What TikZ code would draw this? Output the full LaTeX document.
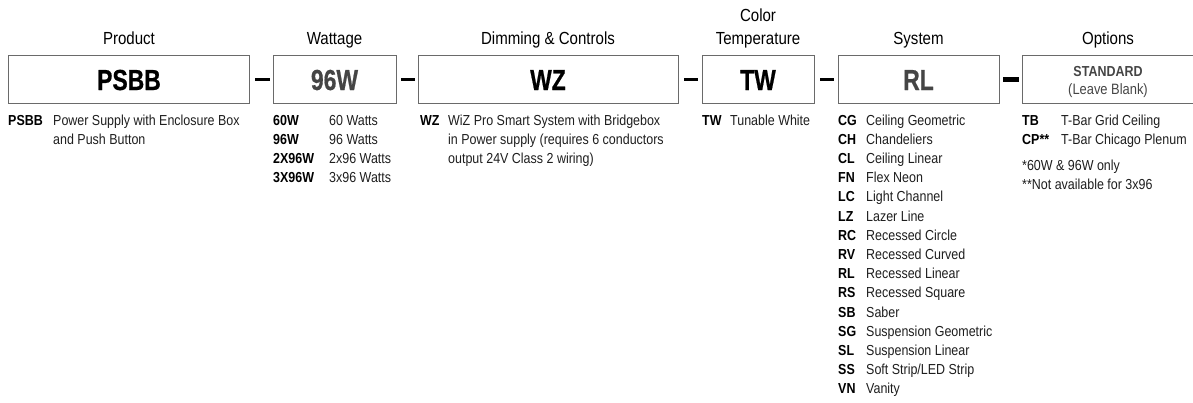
\documentclass[tikz,border=0pt]{standalone}
\usepackage{fontspec}
\setmainfont{Liberation Sans}[FakeStretch=0.86]
\newfontfamily\bigcodefont{Liberation Sans Bold}[FakeStretch=0.79,FakeBold=0.6]
\definecolor{boxline}{HTML}{6A6A6A}
\definecolor{graytext}{HTML}{454545}
\definecolor{desctext}{HTML}{1E1E1E}
\tikzset{
  codebox/.style={draw=boxline, line width=1.3pt, inner sep=0pt, anchor=north west},
  sep/.style={line width=3.5pt, draw=black},
  septhick/.style={line width=5pt, draw=black},
  header/.style={anchor=base, inner sep=0pt, font=\fontsize{17.5}{20}\selectfont, text=black},
  bigcode/.style={anchor=base, inner sep=0pt, font=\fontsize{29}{32}\bigcodefont},
  code/.style={anchor=base west, inner sep=0pt, font=\fontsize{14.5}{17}\selectfont\bfseries, text=black},
  desc/.style={anchor=base west, inner sep=0pt, font=\fontsize{14.5}{17}\selectfont, text=desctext},
}
\begin{document}
\begin{tikzpicture}[x=1pt,y=-1pt]
\useasboundingbox (0,0) rectangle (1193,402);
% boxes
\node[codebox, minimum width=241pt, minimum height=48pt] (bprod) at (8,55) {};
\node[codebox, minimum width=123pt, minimum height=48pt] (bwatt) at (273,55) {};
\node[codebox, minimum width=260pt, minimum height=48pt] (bdim) at (418,55) {};
\node[codebox, minimum width=112pt, minimum height=48pt] (bcct) at (702,55) {};
\node[codebox, minimum width=161pt, minimum height=48pt] (bsys) at (838,55) {};
\node[codebox, minimum width=174pt, minimum height=48pt] (bopt) at (1022,55) {};
% separators
\draw[sep] (bprod.east) ++(5,0) coordinate (s1a) -- ++(15,0) coordinate (s1b);
\draw[sep] (bwatt.east) ++(4,0) coordinate (s2a) -- ++(14,0) coordinate (s2b);
\draw[sep] (bdim.east) ++(5,0) coordinate (s3a) -- ++(14,0) coordinate (s3b);
\draw[sep] (bcct.east) ++(5,0) coordinate (s4a) -- ++(14,0) coordinate (s4b);
\draw[septhick] (bsys.east) ++(3,0) coordinate (s5a) -- ++(16,0) coordinate (s5b);
% headers
\node[header] (hprod) at (129,44) {Product};
\node[header] (hwatt) at (334.5,44) {Wattage};
\node[header] (hdim) at (548,44) {Dimming \& Controls};
\node[header] (hcct1) at (758,21) {Color};
\node[header] (hcct2) at (758,44) {Temperature};
\node[header] (hsys) at (918.5,44) {System};
\node[header] (hopt) at (1108,44) {Options};
% box contents
\node[bigcode, text=black] (tprod) at (129,90) {PSBB};
\node[bigcode, text=graytext] (twatt) at (334.5,90) {96W};
\node[bigcode, text=black] (tdim) at (548,90) {WZ};
\node[bigcode, text=black] (tcct) at (758,90) {TW};
\node[bigcode, text=graytext] (tsys) at (918.5,90) {RL};
\node[anchor=base, inner sep=0pt, font=\fontsize{14.5}{17}\selectfont\bfseries, text=graytext] (topt1) at (1108,76) {STANDARD};
\node[anchor=base, inner sep=0pt, font=\fontsize{15}{17}\selectfont, text=graytext] (topt2) at (1108,94.5) {(Leave Blank)};
% product
\node[code] (cp1) at (8,125) {PSBB};
\node[desc] (dp1) at (53,125) {Power Supply with Enclosure Box};
\node[desc] (dp2) at (53,144.2) {and Push Button};
% wattage
\foreach \c/\d [count=\i from 0] in {60W/60 Watts,96W/96 Watts,2X96W/2x96 Watts,3X96W/3x96 Watts}{
  \node[code] (cw\i) at (273,125+19.2*\i) {\c};
  \node[desc] (dw\i) at (329,125+19.2*\i) {\d};
}
% dimming
\node[code] (cd1) at (420,125) {WZ};
\node[desc] (dd1) at (448,125) {WiZ Pro Smart System with Bridgebox};
\node[desc] (dd2) at (448,144.2) {in Power supply (requires 6 conductors};
\node[desc] (dd3) at (448,163.4) {output 24V Class 2 wiring)};
% color temperature
\node[code] (cc1) at (702,125) {TW};
\node[desc] (dc1) at (730,125) {Tunable White};
% system
\foreach \c/\d [count=\i from 0] in {CG/Ceiling Geometric,CH/Chandeliers,CL/Ceiling Linear,FN/Flex Neon,LC/Light Channel,LZ/Lazer Line,RC/Recessed Circle,RV/Recessed Curved,RL/Recessed Linear,RS/Recessed Square,SB/Saber,SG/Suspension Geometric,SL/Suspension Linear,SS/Soft Strip\slash LED Strip,VN/Vanity}{
  \node[code] (cs\i) at (838,125+19.2*\i) {\c};
  \node[desc] (ds\i) at (866,125+19.2*\i) {\d};
}
% options
\node[code] (co1) at (1022,125) {TB};
\node[desc] (do1) at (1061,125) {T-Bar Grid Ceiling};
\node[code] (co2) at (1022,144.2) {CP**};
\node[desc] (do2) at (1061,144.2) {T-Bar Chicago Plenum};
\node[desc] (n1) at (1022,170) {*60W \& 96W only};
\node[desc] (n2) at (1022,189.2) {**Not available for 3x96};
\end{tikzpicture}
\end{document}
